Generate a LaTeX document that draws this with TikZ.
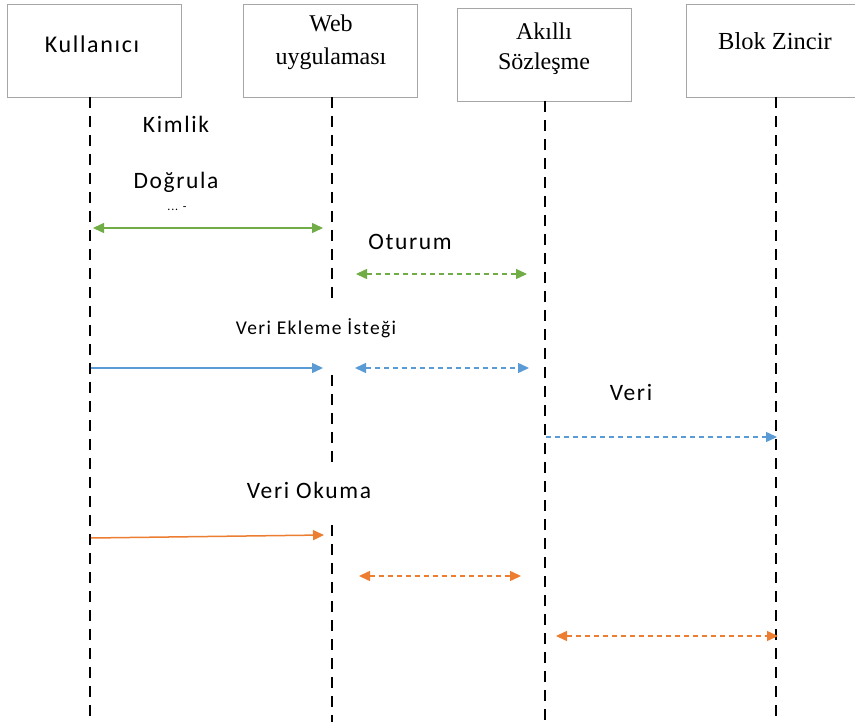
\documentclass[tikz,border=0pt]{standalone}
\usepackage{fontspec}
\setmainfont{Liberation Serif}
\newfontfamily\lblfont[LetterSpace=7]{Carlito}
\usetikzlibrary{arrows.meta}
\definecolor{cgreen}{HTML}{70AD47}
\definecolor{cblue}{HTML}{5B9BD5}
\definecolor{corange}{HTML}{ED7D31}
\definecolor{boxgray}{HTML}{A6A6A6}
\tikzset{
  actor/.style={draw=boxgray, line width=1.3pt, fill=white, minimum width=174pt, minimum height=93pt, anchor=north west, inner sep=0pt, align=center},
  life/.style={draw=black, line width=2.6pt, dash pattern=on 11pt off 8pt},
  msgsolid/.style={line width=1.5pt},
  msgdash/.style={line width=1.5pt, dash pattern=on 5pt off 4pt},
  tip/.style={-{Triangle[length=11pt,width=10pt]}},
  tips/.style={{Triangle[length=11pt,width=10pt]}-{Triangle[length=11pt,width=10pt]}},
  lbl/.style={font=\lblfont\fontsize{23.5}{26}\selectfont, inner sep=0pt},
  slbl/.style={font=\lblfont\fontsize{19.5}{22}\selectfont, inner sep=0pt},
}
\begin{document}
\begin{tikzpicture}[x=1pt,y=-1pt]
\useasboundingbox (0,0) rectangle (855,722);
% actors
\node[actor] (user) at (7,4) {};
\node[lbl, font=\lblfont\fontsize{24}{26}\selectfont] (usert) at (92,44) {Kullanıcı};
\node[actor] (web) at (243,4) {};
\node[inner sep=0pt, align=center, font=\fontsize{24}{33}\selectfont] (webt) at (331,42) {Web\\uygulaması};
\node[actor] (sc) at (457,8) {};
\node[inner sep=0pt, align=center, font=\fontsize{24}{30}\selectfont] (sct) at (544,49) {Akıllı\\Sözleşme};
\node[actor, minimum width=180pt] (bc) at (686,4) {};
\node[inner sep=0pt, font=\fontsize{24.5}{26}\selectfont] (bct) at (775,41) {Blok Zincir};
% lifeline ends
\coordinate (uB) at (90,722);
\coordinate (w1) at (332,302);
\coordinate (w2a) at (332,375);
\coordinate (w2b) at (332,463);
\coordinate (w3a) at (332,525);
\coordinate (w3b) at (332,722);
\coordinate (sB) at (545,722);
\coordinate (bB) at (776,722);
\draw[life] (90,97) -- (uB);
\draw[life] (332,97) -- (w1);
\draw[life] (w2a) -- (w2b);
\draw[life] (w3a) -- (w3b);
\draw[life] (545,101) -- (sB);
\draw[life] (776,97) -- (bB);
% message end points
\coordinate (a1) at (93,228); \coordinate (a2) at (323,228);
\coordinate (b1) at (356,274); \coordinate (b2) at (527,274);
\coordinate (c1) at (91,368); \coordinate (c2) at (323,368);
\coordinate (d1) at (355,368); \coordinate (d2) at (529,368);
\coordinate (e1) at (546,437); \coordinate (e2) at (777,437);
\coordinate (f1) at (91,538); \coordinate (f2) at (324,535);
\coordinate (g1) at (359,576); \coordinate (g2) at (521,576);
\coordinate (h1) at (556,636); \coordinate (h2) at (778,636);
% messages
\draw[msgsolid, cgreen, tips] (a1) -- (a2);
\draw[msgdash, cgreen, tips] (b1) -- (b2);
\draw[msgsolid, cblue, tip] (c1) -- (c2);
\draw[msgdash, cblue, tips] (d1) -- (d2);
\draw[msgdash, cblue, tip] (e1) -- (e2);
\draw[msgsolid, corange, tip] (f1) -- (f2);
\draw[msgdash, corange, tips] (g1) -- (g2);
\draw[msgdash, corange, tips] (h1) -- (h2);
% labels
\node[lbl] (l1) at (176,124) {Kimlik};
\node[lbl] (l2) at (176,182) {Doğrula};
\node[inner sep=0pt, font=\lblfont\fontsize{12}{12}\selectfont] (l2b) at (177,209) {... -};
\node[lbl] (l3) at (410,242) {Oturum};
\node[slbl] (l4) at (316,328) {Veri Ekleme İsteği};
\node[lbl] (l5) at (631,392) {Veri};
\node[lbl] (l6) at (309,490) {Veri Okuma};
\end{tikzpicture}
\end{document}
